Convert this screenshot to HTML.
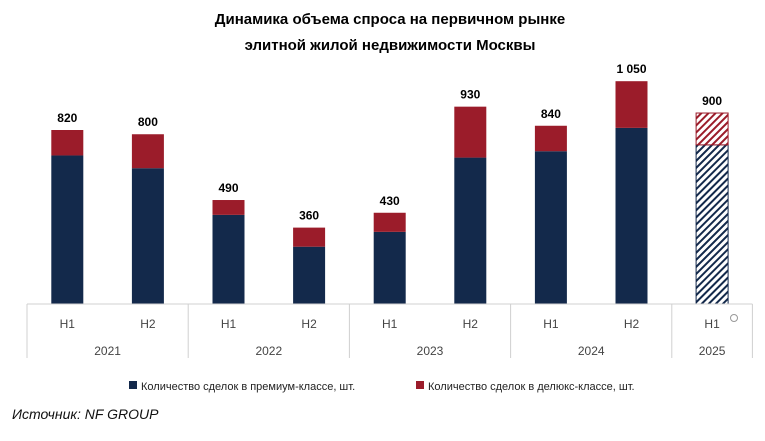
<!DOCTYPE html>
<html><head><meta charset="utf-8"><style>
body{margin:0;background:#fff;}
svg text{font-family:"Liberation Sans","DejaVu Sans",sans-serif;}
</style></head><body>
<svg id="c" width="765" height="436" xmlns="http://www.w3.org/2000/svg">
<defs>
<pattern id="hn" patternUnits="userSpaceOnUse" width="5" height="5" patternTransform="rotate(45)"><rect width="5" height="5" fill="#fff"/><rect width="2" height="5" fill="#13294b"/></pattern>
<pattern id="hr" patternUnits="userSpaceOnUse" width="5" height="5" patternTransform="rotate(45)"><rect width="5" height="5" fill="#fff"/><rect width="2" height="5" fill="#9b1c2a"/></pattern>
</defs>
<text x="390" y="24" text-anchor="middle" font-weight="bold" font-size="15">Динамика объема спроса на первичном рынке</text>
<text x="390" y="50" text-anchor="middle" font-weight="bold" font-size="15">элитной жилой недвижимости Москвы</text>
<g id="bars"></g>
<g id="axis"></g>
<rect x="129" y="381" width="8" height="8" fill="#13294b"/>
<text x="141" y="390" font-size="11" fill="#222">Количество сделок в премиум-классе, шт.</text>
<rect x="416" y="381" width="8" height="8" fill="#9b1c2a"/>
<text x="428" y="390" font-size="11" fill="#222">Количество сделок в делюкс-классе, шт.</text>
<text x="12" y="419" font-size="14" font-style="italic" fill="#111">Источник: NF GROUP</text>
<circle cx="734" cy="318" r="3.5" fill="none" stroke="#999"/>
</svg>
<script>
const halves=["H1","H2","H1","H2","H1","H2","H1","H2","H1"];
const years=["2021","2022","2023","2024","2025"];
const premium=[700,640,420,270,340,690,720,830,750];
const deluxe=[120,160,70,90,90,240,120,220,150];
const totalLabels=["820","800","490","360","430","930","840","1 050","900"];
const forecast=[false,false,false,false,false,false,false,false,true];
const NS="http://www.w3.org/2000/svg";
const base=304, k=174/820, x0=27, slot=80.6;
const nSlots=halves.length;
function y(v){return base-v*k;}
function cx(i){return x0+slot*(i+0.5);}
function mk(t,a,p){const e=document.createElementNS(NS,t);for(const q in a)e.setAttribute(q,a[q]);p.appendChild(e);return e;}
const B=document.getElementById('bars'),A=document.getElementById('axis');
premium.forEach((p,i)=>{
  const x=cx(i)-16,tot=p+deluxe[i];
  const r1=mk('rect',{x:x,y:y(p),width:32,height:base-y(p),fill:forecast[i]?'url(#hn)':'#13294b'},B);
  
  
  if(forecast[i]){r1.setAttribute('stroke','#13294b');r1.setAttribute('stroke-width','1');}
  const r2=mk('rect',{x:x,y:y(tot),width:32,height:y(p)-y(tot),fill:forecast[i]?'url(#hr)':'#9b1c2a'},B);
  
  
  if(forecast[i]){r2.setAttribute('stroke','#9b1c2a');r2.setAttribute('stroke-width','1');}
  const t=mk('text',{x:cx(i),y:y(tot)-8,'text-anchor':'middle','font-weight':'bold','font-size':'12'},B);
  t.textContent=totalLabels[i];
  
  
  const h=mk('text',{x:cx(i),y:328,'text-anchor':'middle','font-size':'12',fill:'#444'},A);
  h.textContent=halves[i];
  
  
});
const xEnd=x0+slot*nSlots;
const L=mk('line',{x1:x0,x2:xEnd,y1:base,y2:base,stroke:'#d0d0d0'},A);


years.forEach((yr,j)=>{
  const s=x0+slot*2*j, e=Math.min(xEnd,s+slot*2);
  const v=mk('line',{x1:s,x2:s,y1:base,y2:358,stroke:'#d0d0d0'},A);
  
  
  const t=mk('text',{x:(s+e)/2,y:355,'text-anchor':'middle','font-size':'12',fill:'#444'},A);
  t.textContent=yr;
  
  
});
const ve=mk('line',{x1:xEnd,x2:xEnd,y1:base,y2:358,stroke:'#d0d0d0'},A);


</script>
</body></html>
